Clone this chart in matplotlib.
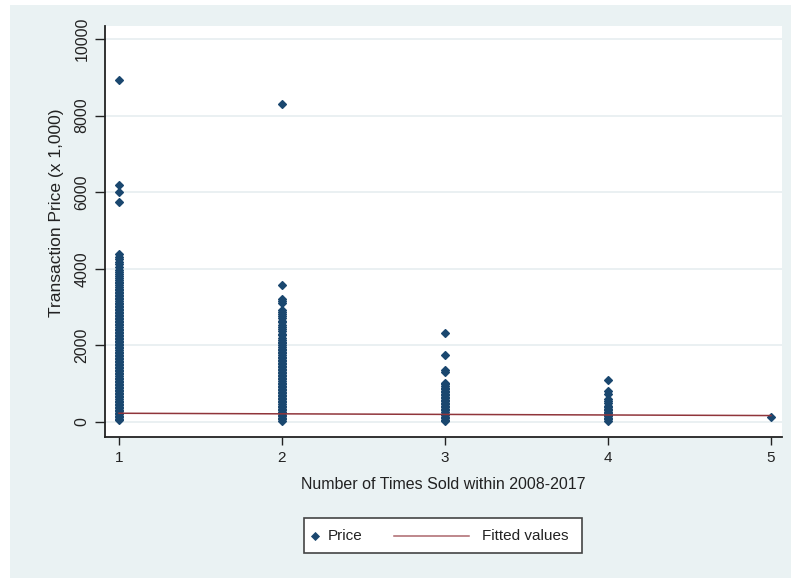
import matplotlib
matplotlib.use("Agg")
import matplotlib.pyplot as plt
from matplotlib.patches import Rectangle
from matplotlib.lines import Line2D

plt.rcParams["font.family"] = ["Liberation Sans", "DejaVu Sans"]

# Transaction prices (x 1,000) by number of times sold
times_sold = [1, 2, 3, 4, 5]

price_sold_1 = [
    40, 80, 120, 160, 200, 240, 280, 320, 360, 400, 440, 480, 520, 560, 600,
    640, 680, 720, 760, 800, 840, 880, 920, 960, 1000, 1040, 1080, 1120, 1160,
    1200, 1240, 1280, 1320, 1360, 1400, 1440, 1480, 1520, 1560, 1600, 1640,
    1680, 1720, 1760, 1800, 1840, 1880, 1920, 1960, 2000, 2040, 2080, 2120,
    2160, 2200, 2240, 2280, 2320, 2360, 2400, 2440, 2480, 2520, 2560, 2600,
    2640, 2680, 2720, 2760, 2800, 2840, 2880, 2920, 2960, 3000, 3040, 3080,
    3120, 3160, 3200, 3240, 3280, 3320, 3360, 3400, 3440, 3480, 3530, 3570,
    3620, 3660, 3720, 3760, 3820, 3870, 3920, 3980, 4040, 4120, 4170, 4250,
    4300, 4390, 5745, 6005, 6190, 8930]
price_sold_2 = [
    30, 70, 110, 150, 190, 230, 270, 310, 350, 390, 430, 470, 510, 550, 590,
    630, 670, 710, 750, 790, 830, 870, 910, 950, 990, 1030, 1070, 1110, 1150,
    1190, 1230, 1270, 1310, 1350, 1390, 1430, 1470, 1510, 1550, 1590, 1630,
    1670, 1710, 1750, 1790, 1830, 1870, 1910, 1950, 2000, 2050, 2100, 2150,
    2200, 2260, 2310, 2370, 2420, 2480, 2540, 2600, 2650, 2710, 2770, 2830,
    2880, 2925, 3120, 3160, 3200, 3577, 8300]
price_sold_3 = [
    20, 60, 100, 140, 180, 220, 260, 300, 340, 380, 420, 460, 500, 540, 580,
    620, 660, 700, 740, 780, 820, 860, 900, 940, 980, 1020, 1300, 1360, 1750,
    2330]
price_sold_4 = [30, 70, 110, 150, 190, 230, 270, 310, 350, 390, 430, 500,
                560, 610, 730, 810, 1100]
price_sold_5 = [120]

# Linear fit of price on number of times sold
fitted_values = [228, 213, 198, 183, 168]

y_ticks = [0, 2000, 4000, 6000, 8000, 10000]
x_ticks = [1, 2, 3, 4, 5]

navy = "#1a476f"
maroon = "#90353b"
bg = "#eaf2f3"
ink = "#222222"

W, H = 791, 578


def fx(px):
    return px / W


def fy(py):
    return 1 - py / H


fig = plt.figure(figsize=(W / 100, H / 100), dpi=100)
fig.patch.set_facecolor("white")
fig.patches.append(Rectangle((fx(10), 0), 1 - fx(10), fy(5),
                             transform=fig.transFigure, facecolor=bg,
                             edgecolor="none", zorder=-10))

ax = fig.add_axes([fx(105), fy(437), fx(677), 411 / H])
ax.set_facecolor("white")

groups = [price_sold_1, price_sold_2, price_sold_3, price_sold_4, price_sold_5]
for xv, prices in zip(times_sold, groups):
    ax.plot([xv] * len(prices), prices, linestyle="none", marker="D",
            markersize=4.0, color=navy, markeredgecolor=navy,
            markeredgewidth=0.9, zorder=3)

ax.plot(times_sold, fitted_values, color=maroon, linewidth=1.1, zorder=4)

ax.set_xlim(0.914, 5.068)
ax.set_ylim(-392, 10340)
ax.set_yticks(y_ticks)
ax.set_xticks(x_ticks)
ax.set_yticklabels([str(v) for v in y_ticks], rotation=90, va="center")
ax.tick_params(axis="y", length=7, width=1, pad=4, labelsize=11.5, colors=ink)
ax.tick_params(axis="x", length=6, width=1, pad=4, labelsize=11, colors=ink)
for v in y_ticks:
    ax.axhline(v, color="#e6eef0", linewidth=1.2, zorder=1)

for side in ["top", "right"]:
    ax.spines[side].set_visible(False)
for side in ["left", "bottom"]:
    ax.spines[side].set_color(ink)
    ax.spines[side].set_linewidth(1.3)

ax.set_ylabel("Transaction Price (x 1,000)", fontsize=12.5, color=ink)
ax.yaxis.set_label_coords(-0.060, 0.545)
ax.set_xlabel("Number of Times Sold within 2008-2017", fontsize=11.5,
              color=ink, labelpad=9)

# Legend box below the plot
fig.patches.append(Rectangle((fx(304), fy(553)), fx(278), 35 / H,
                             transform=fig.transFigure, facecolor="white",
                             edgecolor="#444444", linewidth=1.2, zorder=5))
ly = fy(535.5)
fig.add_artist(Line2D([fx(315)], [ly], transform=fig.transFigure,
                      linestyle="none", marker="D", markersize=3.6,
                      color=navy, markeredgewidth=0.6, zorder=6))
fig.text(fx(328), ly, "Price", fontsize=11, color=ink, va="center",
         ha="left", zorder=6)
fig.add_artist(Line2D([fx(394), fx(469)], [ly, ly], transform=fig.transFigure,
                      color=maroon, linewidth=1.1, alpha=0.75, zorder=6))
fig.text(fx(482), ly, "Fitted values", fontsize=11, color=ink, va="center",
         ha="left", zorder=6)

fig.savefig("out.png", dpi=100, facecolor=fig.get_facecolor())
